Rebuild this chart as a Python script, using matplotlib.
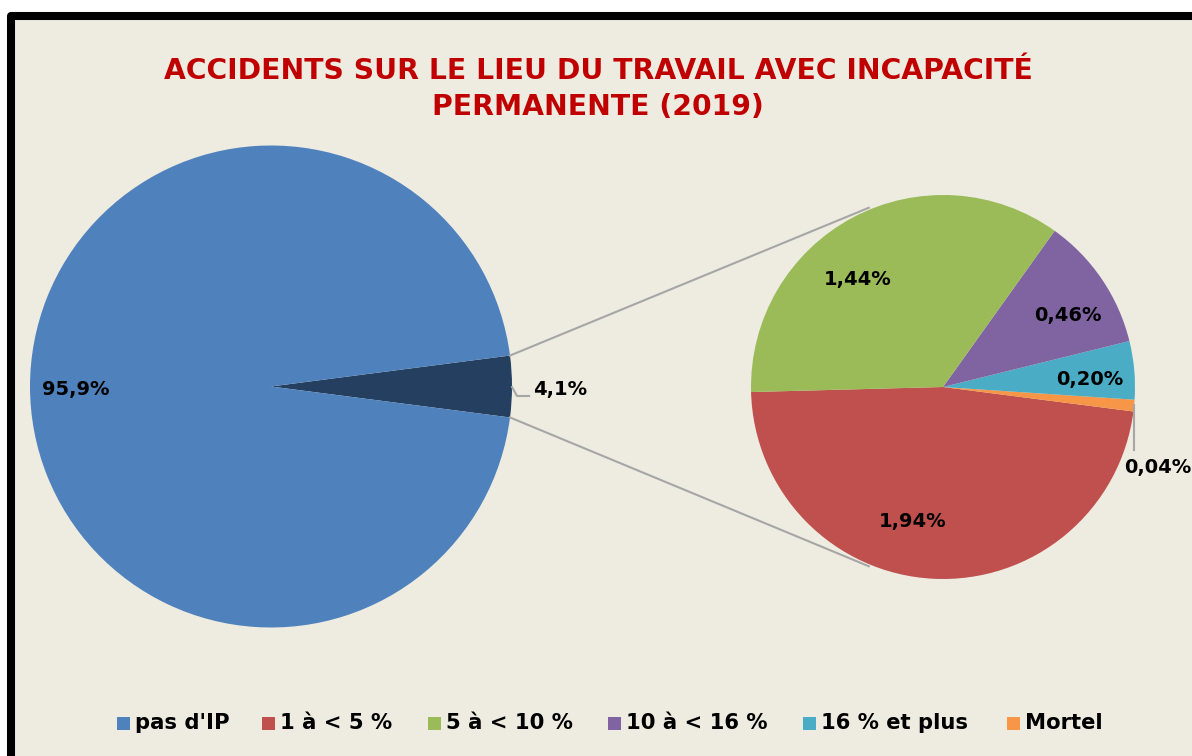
import numpy as np
import matplotlib
matplotlib.use("Agg")
import matplotlib.pyplot as plt
from matplotlib.patches import Rectangle

# ---- data ----
main_labels = ["pas d'IP", "IP"]
main_values = [95.9, 4.1]
main_texts = ["95,9%", "4,1%"]

sub_labels = ["1 à < 5 %", "Mortel", "16 % et plus", "10 à < 16 %", "5 à < 10 %"]
sub_values = [1.94, 0.04, 0.20, 0.46, 1.44]
sub_texts = ["1,94%", "0,04%", "0,20%", "0,46%", "1,44%"]

legend_labels = ["pas d'IP", "1 à < 5 %", "5 à < 10 %", "10 à < 16 %", "16 % et plus", "Mortel"]
title = "ACCIDENTS SUR LE LIEU DU TRAVAIL AVEC INCAPACITÉ\nPERMANENTE (2019)"

# ---- styles ----
C_BLUE = "#4F81BD"
C_DARK = "#243F60"
C_RED = "#C0504D"
C_GREEN = "#9BBB59"
C_PURPLE = "#8064A2"
C_CYAN = "#4BACC6"
C_ORANGE = "#F79646"
BG = "#EEECE1"
sub_colors = [C_RED, C_ORANGE, C_CYAN, C_PURPLE, C_GREEN]
legend_colors = [C_BLUE, C_RED, C_GREEN, C_PURPLE, C_CYAN, C_ORANGE]

W, H = 1192, 756
fig = plt.figure(figsize=(W / 100, H / 100), dpi=100, facecolor="white")
ax = fig.add_axes([0, 0, 1, 1])

def Y(py):
    return H - py

# main pie
c1 = (271, Y(386.5)); r1 = 241
ang_small = main_values[1] / sum(main_values) * 360
start1 = -ang_small / 2
ax.pie(main_values[::-1], colors=[C_DARK, C_BLUE], startangle=start1, radius=r1,
       center=c1, counterclock=True, wedgeprops=dict(linewidth=0), frame=True)

# sub pie
c2 = (943, Y(387)); r2 = 192
ax.pie(sub_values, colors=sub_colors, startangle=181.5, radius=r2, center=c2,
       counterclock=True, wedgeprops=dict(linewidth=0), frame=True)
ax.set_xlim(0, W); ax.set_ylim(0, H); ax.set_aspect("equal"); ax.axis("off")

# frame
ax.add_patch(Rectangle((11, -60), 1300, Y(16) + 60, facecolor=BG, edgecolor="black",
                       linewidth=5.8, joinstyle="round", zorder=-1))

# connector lines
a_top = np.deg2rad(ang_small / 2)
p_top = (c1[0] + r1 * np.cos(a_top), c1[1] + r1 * np.sin(a_top))
p_bot = (c1[0] + r1 * np.cos(-a_top), c1[1] + r1 * np.sin(-a_top))
q_top = (c2[0] + 194 * np.cos(np.deg2rad(112.5)), c2[1] + 194 * np.sin(np.deg2rad(112.5)))
q_bot = (c2[0] + 194 * np.cos(np.deg2rad(247.5)), c2[1] + 194 * np.sin(np.deg2rad(247.5)))
ax.plot([p_top[0], q_top[0]], [p_top[1], q_top[1]], color="#A6A6A6", lw=1.5, zorder=5)
ax.plot([p_bot[0], q_bot[0]], [p_bot[1], q_bot[1]], color="#A6A6A6", lw=1.5, zorder=5)

lab = dict(fontsize=14, fontweight="bold", color="black", ha="center", va="center", zorder=6)
ax.text(76, Y(390), main_texts[0], **lab)
ax.text(560, Y(389), main_texts[1], **lab)
ax.plot([512, 517, 529], [Y(387), Y(396), Y(396)], color="#A6A6A6", lw=1.5, zorder=5)

sub_pos = [(913, 522), (1158, 467), (1090, 380), (1068, 316), (858, 280)]
for t, (x, y) in zip(sub_texts, sub_pos):
    ax.text(x, Y(y), t, **lab)
ax.plot([1134, 1134], [Y(405), Y(450)], color="#A6A6A6", lw=1.5, zorder=5)

# title
ax.text(598, Y(89), title, fontsize=20.3, fontweight="bold", color="#C00000",
        ha="center", va="center", linespacing=1.32)

# legend
sq_x = [117, 262, 428, 608, 803, 1007]
for x, lbl, col in zip(sq_x, legend_labels, legend_colors):
    ax.add_patch(Rectangle((x, Y(730)), 13, 13, facecolor=col, edgecolor="none"))
    ax.text(x + 18, Y(723), lbl, fontsize=15.2, fontweight="bold", ha="left", va="center")

fig.savefig("out.png", dpi=100, facecolor="white")
